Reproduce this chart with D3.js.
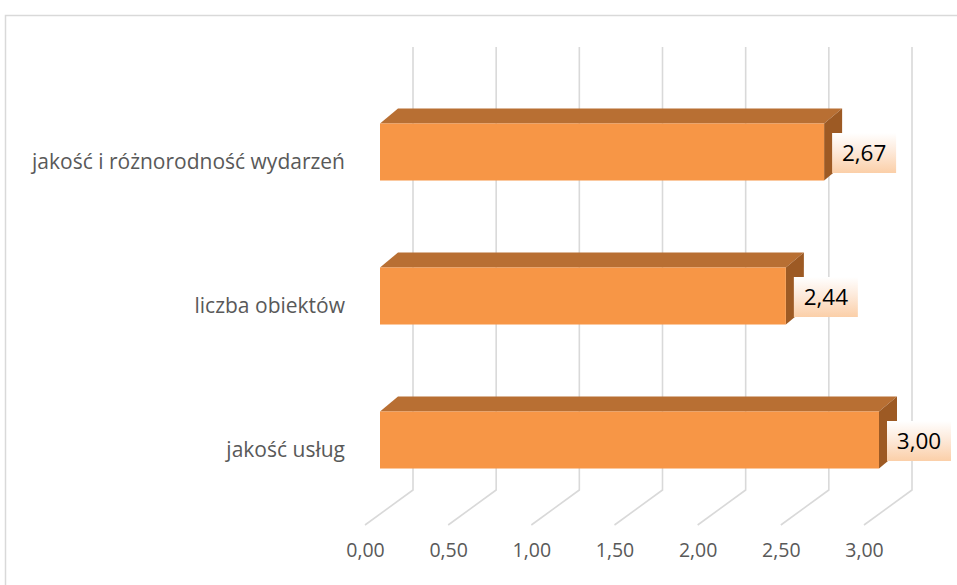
<!DOCTYPE html>
<html><head><meta charset="utf-8">
<script src="https://cdn.jsdelivr.net/npm/d3@7"></script>
<style>body{margin:0;background:#fff;}svg{display:block;}</style>
</head><body>
<svg id="c" width="957" height="585"></svg>
<script>
const categories = ["jakość i różnorodność wydarzeń", "liczba obiektów", "jakość usług"];
const values = [2.67, 2.44, 3.00];
const ticks = [0, 0.5, 1, 1.5, 2, 2.5, 3];

const svg = d3.select("#c");
const fmt = v => d3.format(".2f")(v).replace(".", ",");
const font = "'Open Sans', sans-serif";

// chart border
svg.append("rect").attr("x",5.5).attr("y",15.5).attr("width",970).attr("height",600)
  .attr("fill","none").attr("stroke","#d9d9d9").attr("stroke-width",1.5);

const x = d3.scaleLinear().domain([0,3]).range([0,499]);
const y = d3.scaleBand().domain(categories).range([80,512]).paddingInner(0.604).paddingOuter(0.302);

const backX = 413, frontX = 365, barX = 380;
const backTop = 47, backBottom = 490, floorFront = 525;
const dX = 18, dY = -15;

// gridlines
const g = svg.append("g");
ticks.forEach(t => {
  g.append("path")
    .attr("d", `M${backX + x(t)},${backTop} L${backX + x(t)},${backBottom} L${frontX + x(t)},${floorFront}`)
    .attr("fill","none").attr("stroke","#d9d9d9").attr("stroke-width",1.6);
});

// axis labels
const ax = svg.append("g").attr("transform", `translate(${frontX},${floorFront + 15})`)
  .call(d3.axisBottom(x).tickValues(ticks).tickFormat(fmt).tickSize(0));
ax.select(".domain").remove();
ax.selectAll("text").attr("font-family", font).attr("font-size", 19.5).attr("fill","#595959");

// defs gradient for labels
const defs = svg.append("defs");
const gr = defs.append("linearGradient").attr("id","lbl").attr("x1",0).attr("y1",0).attr("x2",0).attr("y2",1);
gr.append("stop").attr("offset","0%").attr("stop-color","#ffffff");
gr.append("stop").attr("offset","45%").attr("stop-color","#fdeadb");
gr.append("stop").attr("offset","100%").attr("stop-color","#fbcfa8");

// bars
const bars = svg.append("g");
categories.forEach((c,i) => {
  const v = values[i];
  const y0 = y(c), h = y.bandwidth();
  const x0 = barX, x1 = barX + x(v);
  bars.append("path").attr("d", `M${x0},${y0} L${x0+dX},${y0+dY} L${x1+dX},${y0+dY} L${x1},${y0} Z`)
    .attr("fill","#b86f33");
  bars.append("path").attr("d", `M${x1},${y0} L${x1+dX},${y0+dY} L${x1+dX},${y0+h+dY} L${x1},${y0+h} Z`)
    .attr("fill","#9d5a24");
  bars.append("rect").attr("x",x0).attr("y",y0).attr("width",x1-x0).attr("height",h).attr("fill","#f79646");
  const lx = x1 + 8, ly = y0 + h/2 - 19;
  bars.append("rect").attr("x",lx).attr("y",ly).attr("width",64).attr("height",40).attr("fill","url(#lbl)");
  bars.append("text").attr("x", lx + 32).attr("y", ly + 28).attr("text-anchor","middle")
    .attr("font-family", font).attr("font-size", 22.5).attr("fill","#000").text(fmt(v));
  svg.append("text").attr("x",345).attr("y", y0 + h/2 + 17).attr("text-anchor","end")
    .attr("font-family", font).attr("font-size", 21).attr("fill","#595959").text(c);
});
</script>
</body></html>
